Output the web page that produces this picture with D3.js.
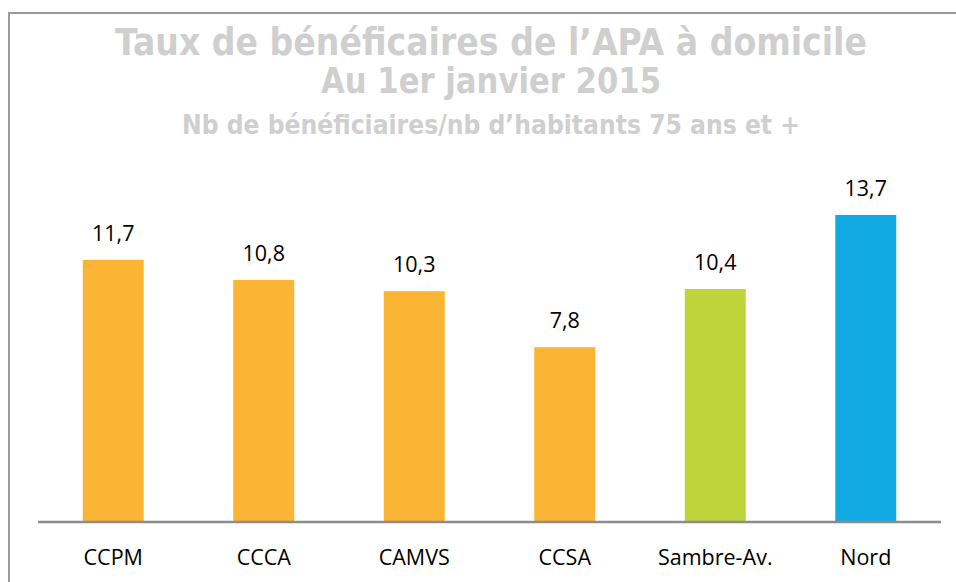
<!DOCTYPE html>
<html>
<head>
<meta charset="utf-8">
<script src="https://cdn.jsdelivr.net/npm/d3@7"></script>
<style>
  html, body { margin: 0; padding: 0; background: #fff; }
  svg { display: block; }
</style>
</head>
<body>
<svg id="chart" width="956" height="582"></svg>
<script>
// Territoires et taux de bénéficiaires (pour 100 habitants de 75 ans et +)
const categories = ["CCPM", "CCCA", "CAMVS", "CCSA", "Sambre-Av.", "Nord"];
const values = [11.7, 10.8, 10.3, 7.8, 10.4, 13.7];
const barColors = ["#fbb534", "#fbb534", "#fbb534", "#fbb534", "#bdd43b", "#11aae1"];
const titleLines = [
  "Taux de bénéficaires de l’APA à domicile",
  "Au 1er janvier 2015",
  "Nb de bénéficiaires/nb d’habitants 75 ans et +"
];

const svg = d3.select("#chart");
const W = 956, H = 582;

// Cadre du graphique
svg.append("rect")
  .attr("x", 9).attr("y", 13)
  .attr("width", W + 20).attr("height", H + 20)
  .attr("fill", "none")
  .attr("stroke", "#9a9a9a")
  .attr("stroke-width", 2);

// Titres
const titleCfg = [
  { y: 55, size: 37, len: 752 },
  { y: 93, size: 35, len: 340 },
  { y: 134, size: 27, len: 618 }
];
const cx = 491;
titleLines.forEach((t, i) => {
  svg.append("text")
    .attr("x", cx)
    .attr("y", titleCfg[i].y)
    .attr("text-anchor", "middle")
    .attr("font-family", "'DejaVu Sans Condensed', 'DejaVu Sans', sans-serif")
    .attr("font-stretch", "condensed")
    .attr("font-weight", "bold")
    .attr("font-size", titleCfg[i].size)
    .attr("fill", "#cfcfcf")
    .attr("textLength", titleCfg[i].len)
    .attr("lengthAdjust", "spacingAndGlyphs")
    .text(t);
});

// Échelles
const x = d3.scaleBand()
  .domain(categories)
  .range([38, 941])
  .paddingInner(0.595)
  .paddingOuter(0.2975);

const y = d3.scaleLinear()
  .domain([0, 13.7])
  .range([522, 215]);

// Barres
svg.append("g")
  .selectAll("rect")
  .data(categories)
  .join("rect")
  .attr("x", d => x(d))
  .attr("y", (d, i) => y(values[i]))
  .attr("width", x.bandwidth())
  .attr("height", (d, i) => y(0) - y(values[i]))
  .attr("fill", (d, i) => barColors[i]);

// Étiquettes de valeur
const fmt = v => d3.format(".1f")(v).replace(".", ",");
svg.append("g")
  .selectAll("text")
  .data(categories)
  .join("text")
  .attr("x", d => x(d) + x.bandwidth() / 2)
  .attr("y", (d, i) => y(values[i]) - 19)
  .attr("text-anchor", "middle")
  .attr("font-family", "'Open Sans', sans-serif")
  .attr("font-size", 21.5)
  .attr("fill", "#000")
  .text((d, i) => fmt(values[i]));

// Axe des catégories
const xAxis = svg.append("g")
  .attr("transform", `translate(0,${y(0)})`)
  .call(d3.axisBottom(x).tickSize(0).tickPadding(28));
xAxis.select(".domain")
  .attr("d", "M38,0H941")
  .attr("stroke", "#8c8c8c")
  .attr("stroke-width", 2.5);
xAxis.selectAll(".tick text")
  .attr("font-family", "'Open Sans', sans-serif")
  .attr("font-size", 21.5)
  .attr("fill", "#000");
</script>
</body>
</html>
